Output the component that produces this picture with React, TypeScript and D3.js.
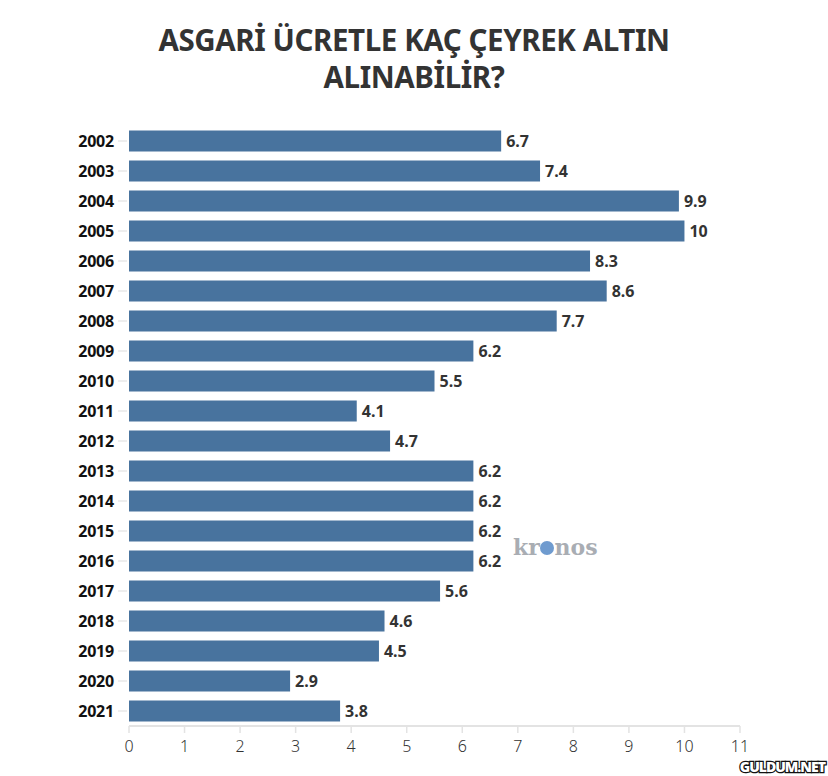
import React from 'react'
import * as d3 from 'd3'

const years = ['2002', '2003', '2004', '2005', '2006', '2007', '2008', '2009', '2010', '2011',
  '2012', '2013', '2014', '2015', '2016', '2017', '2018', '2019', '2020', '2021'];
const values = [6.7, 7.4, 9.9, 10, 8.3, 8.6, 7.7, 6.2, 5.5, 4.1, 4.7, 6.2, 6.2, 6.2, 6.2, 5.6, 4.6, 4.5, 2.9, 3.8];
const xTicks = [0, 1, 2, 3, 4, 5, 6, 7, 8, 9, 10, 11];
const titleLines = ['ASGARİ ÜCRETLE KAÇ ÇEYREK ALTIN', 'ALINABİLİR?'];

const W = 828;
const H = 776;
const font = '"Noto Sans", "Open Sans", sans-serif';

export default function App() {
  const x = d3.scaleLinear().domain([0, 11]).range([129, 740]);
  const y = d3.scaleBand<string>()
    .domain(years)
    .range([126, 726])
    .paddingInner(0.3)
    .paddingOuter(0.15);

  const axisY = 726;

  return (
    <div style={{ position: 'absolute', left: 0, top: 0 }}>
      <svg width={W} height={H} style={{ display: 'block', background: '#fff' }}>
        {titleLines.map((t, i) => (
          <text key={t} x={414} y={51 + i * 37} textAnchor="middle"
            fontFamily={font} fontWeight={700} fontSize={29.5} fill="#333"
            letterSpacing={-0.4}>{t}</text>
        ))}

        {/* bars */}
        {years.map((yr, i) => {
          const by = y(yr)!;
          const cy = by + y.bandwidth() / 2;
          return (
            <g key={yr}>
              <line x1={118} x2={127} y1={cy} y2={cy} stroke="#ddd" strokeWidth={1} />
              <text x={114} y={cy + 6} textAnchor="end" fontFamily={font}
                fontWeight={700} fontSize={16} fill="#111" letterSpacing={-0.2}>{yr}</text>
              <rect x={x(0)} y={by} width={x(values[i]) - x(0)} height={y.bandwidth()} fill="#48739e" />
              <text x={x(values[i]) + 5} y={cy + 6} fontFamily={font}
                fontWeight={700} fontSize={16} fill="#333">{values[i]}</text>
            </g>
          );
        })}

        {/* x axis */}
        <line x1={x(0)} x2={x(11)} y1={axisY} y2={axisY} stroke="#e3e3e3" strokeWidth={2} />
        {xTicks.map(t => (
          <g key={t}>
            <line x1={x(t)} x2={x(t)} y1={axisY} y2={axisY + 7} stroke="#e3e3e3" strokeWidth={1.5} />
            <text x={x(t)} y={axisY + 26} textAnchor="middle" fontFamily={font}
              fontWeight={300} fontSize={16} fill="#333">{t}</text>
          </g>
        ))}

        {/* watermarks */}
        <text x={513} y={555} fontFamily="'DejaVu Serif', serif" fontWeight={700}
          fontSize={22} fill="#a9adb3">kr<tspan fill="none">o</tspan>nos</text>
        <circle cx={547} cy={548} r={7} fill="#6f9bcf" />
        <text x={825} y={772} textAnchor="end" fontFamily={font} fontWeight={900}
          fontSize={14} fill="#fff" stroke="#111" strokeWidth={2.5} paintOrder="stroke"
          letterSpacing={-1}>GULDUM.NET</text>
      </svg>
    </div>
  );
}
